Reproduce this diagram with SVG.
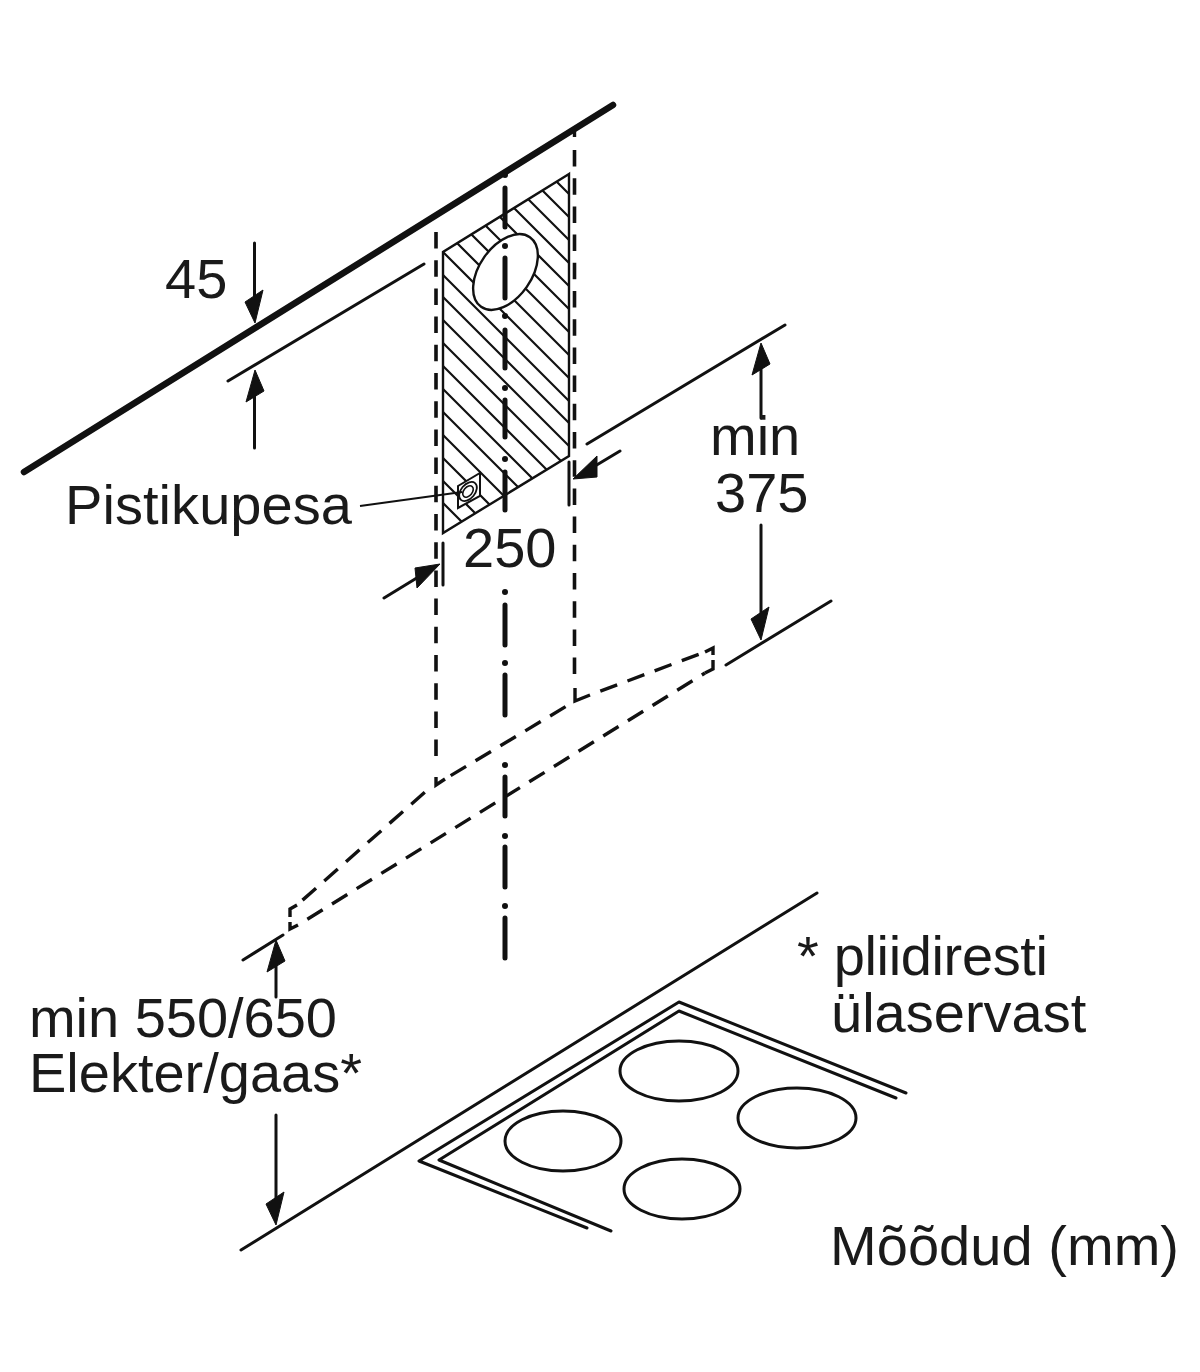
<svg xmlns="http://www.w3.org/2000/svg" width="1200" height="1372" viewBox="0 0 1200 1372">
<style>
text{font-family:"Liberation Sans",Arial,sans-serif;font-size:56px;fill:#1a1a1a}
.l{fill:none;stroke:#111;stroke-width:3;stroke-linecap:round;stroke-linejoin:round}
.t{fill:none;stroke:#111;stroke-width:2.4}
.h{fill:none;stroke:#111;stroke-width:2.2}
.d{fill:none;stroke:#111;stroke-width:3.4;stroke-dasharray:18 11;stroke-dashoffset:18}
.v{fill:none;stroke:#111;stroke-width:3.6;stroke-dasharray:16.5 11.7}
.k{fill:none;stroke:#111;stroke-width:3.4;stroke-linejoin:miter}
.c{fill:none;stroke:#111;stroke-width:5;stroke-linecap:round}
.s{fill:#111;stroke:none}
.a{fill:#111;stroke:#111;stroke-width:1;stroke-linejoin:round}
.b{fill:none;stroke:#111;stroke-width:3}
</style>
<defs>
<clipPath id="pc"><polygon points="569,174 443,252 443,533 569,456"/></clipPath>
<path id="ad" d="M0,0 L-10,-21 L8,-33 Z"/>
<path id="au" d="M0,0 L-9,32 L9,21 Z"/>
</defs>
<g id="ceiling"><line x1="24" y1="472" x2="613" y2="105" stroke="#111" stroke-width="6.500" stroke-linecap="round"/></g>
<g id="plate">
<g clip-path="url(#pc)" class="h">
<path d="M443,68 L660,285 M443,91 L660,308 M443,114 L660,331 M443,137 L660,354 M443,160 L660,377 M443,183 L660,400 M443,206 L660,423 M443,229 L660,446 M443,252 L660,469 M443,275 L660,492 M443,297 L660,514 M443,320 L660,537 M443,343 L660,560 M443,366 L660,583 M443,389 L660,606 M443,412 L660,629 M443,435 L660,652 M443,458 L660,675 M443,481 L660,698 M443,503 L660,720"/>
</g>
<polygon class="t" points="569,174 443,252 443,533 569,456"/>
<ellipse cx="505.500" cy="272" rx="42.500" ry="26" transform="rotate(-55 505.500 272)" fill="#fff" stroke="#111" stroke-width="2.400"/>
</g>
<g id="socket">
<polygon points="458,486 480,473 480,496 458,508" fill="#fff" stroke="#111" stroke-width="2"/>
<ellipse cx="468" cy="491.500" rx="11" ry="7" transform="rotate(-50 468 491.500)" fill="#fff" stroke="#111" stroke-width="1.800"/>
<ellipse cx="468" cy="491.500" rx="6.500" ry="4.200" transform="rotate(-50 468 491.500)" fill="none" stroke="#111" stroke-width="1.600"/>
</g>
<g id="hood">
<path class="d" d="M590,695L705,652"/>
<path class="d" d="M575,701L445,779"/>
<path class="d" d="M433,785L297,905"/>
<path class="d" d="M298,925L705,673"/>
<path class="k" d="M575,688V701L590,695"/>
<path class="k" d="M436,777V785L445,779"/>
<path class="k" d="M297,905L290,909V917"/>
<path class="k" d="M290,922V929L298,925"/>
<path class="k" d="M705,652L713,648V655"/>
<path class="k" d="M713,660V669L705,673"/>
</g>
<g id="connectors">
<path class="k" d="M574.500,130V137"/>
<line class="v" x1="574.500" y1="150" x2="574.500" y2="674"/>
<line class="v" x1="436" y1="232" x2="436" y2="757"/>
<path class="c" d="M505,188V227M505,258V298M505,330V368M505,400V437M505,472V510M505,605V645M505,675V715M505,777V816M505,847V887M505,918V958"/>
<path class="s" d="M505,175m-3,0a3,3 0 1,0 6,0a3,3 0 1,0 -6,0M505,246m-3,0a3,3 0 1,0 6,0a3,3 0 1,0 -6,0M505,316m-3,0a3,3 0 1,0 6,0a3,3 0 1,0 -6,0M505,388m-3,0a3,3 0 1,0 6,0a3,3 0 1,0 -6,0M505,459m-3,0a3,3 0 1,0 6,0a3,3 0 1,0 -6,0M505,592m-3,0a3,3 0 1,0 6,0a3,3 0 1,0 -6,0M505,663m-3,0a3,3 0 1,0 6,0a3,3 0 1,0 -6,0M505,765m-3,0a3,3 0 1,0 6,0a3,3 0 1,0 -6,0M505,836m-3,0a3,3 0 1,0 6,0a3,3 0 1,0 -6,0M505,906m-3,0a3,3 0 1,0 6,0a3,3 0 1,0 -6,0"/>
<path class="l" d="M228,381L424,264M587,444L785,325M726,665L831,601M243,960L283,935M241,1250L817,893"/>
<path class="l" d="M569,462V505M443,543V585"/>
<path class="l" d="M254.500,243V300M254.500,448V395M761,418V365M761,525V620M620,451L590,469M384,598L420,576M276,997V965M276,1115V1205"/>
<use href="#ad" class="a" x="255" y="323"/>
<use href="#au" class="a" x="255" y="370"/>
<use href="#au" class="a" x="761" y="343"/>
<use href="#ad" class="a" x="761" y="640"/>
<use href="#au" class="a" x="276" y="940"/>
<use href="#ad" class="a" x="276" y="1225"/>
<path class="a" d="M573,479L597,456L597,477Z"/>
<path class="a" d="M440,564L415,568L417,588Z"/>
<line x1="360" y1="506" x2="462" y2="492" stroke="#111" stroke-width="2"/>
</g>
<g id="hob">
<path class="l" d="M906,1093L679,1002L419,1161L587,1228"/>
<path class="l" d="M896,1098L679,1011L439,1160L611,1231"/>
<ellipse class="b" cx="679" cy="1071" rx="59" ry="30"/>
<ellipse class="b" cx="797" cy="1118" rx="59" ry="30"/>
<ellipse class="b" cx="563" cy="1141" rx="58" ry="30"/>
<ellipse class="b" cx="682" cy="1189" rx="58" ry="30"/>
</g>
<g id="labels">
<text x="165" y="298">45</text>
<text x="65" y="524" textLength="287">Pistikupesa</text>
<text x="463" y="567">250</text>
<text x="710" y="455">min</text>
<text x="715" y="512">375</text>
<text x="29" y="1037" textLength="308">min 550/650</text>
<text x="29" y="1092" textLength="333">Elekter/gaas*</text>
<text x="797" y="975" textLength="251">* pliidiresti</text>
<text x="831" y="1032">ülaservast</text>
<text x="830" y="1265" textLength="349">Mõõdud (mm)</text>
</g>
</svg>
